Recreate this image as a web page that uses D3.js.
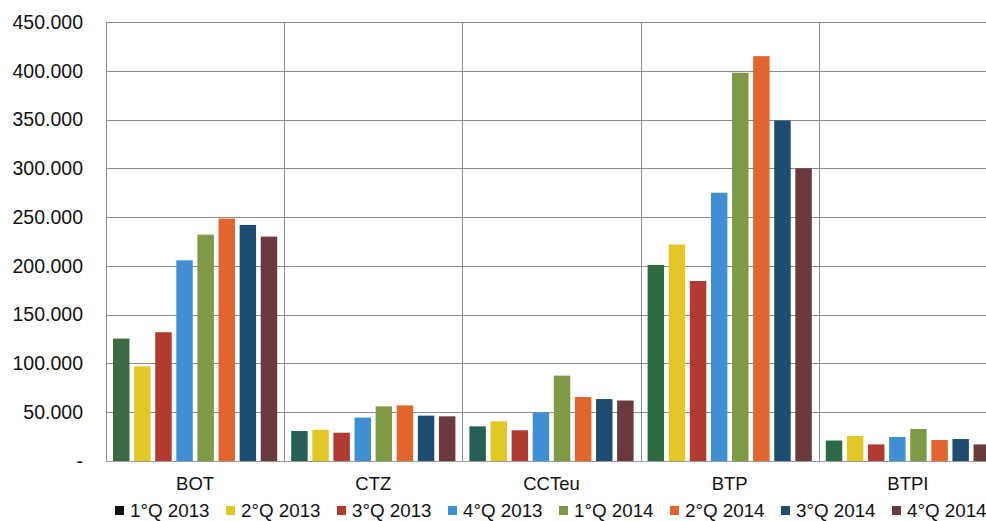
<!DOCTYPE html>
<html>
<head>
<meta charset="utf-8">
<script src="https://cdn.jsdelivr.net/npm/d3@7"></script>
<style>
	body { margin: 0; background: #fff; }
	svg { display: block; font-family: "Liberation Sans", Arial, sans-serif; }
</style>
</head>
<body>
<svg id="chart" width="986" height="521"></svg>
<script>
//DATA

var categories = ["BOT", "CTZ", "CCTeu", "BTP", "BTPI"];
var seriesNames = ["1°Q 2013", "2°Q 2013", "3°Q 2013", "4°Q 2013",
	"1°Q 2014", "2°Q 2014", "3°Q 2014", "4°Q 2014"];

// one array per quarter, values in the order of categories
var q1_2013 = [125500, 30700, 35500, 201000, 21000];
var q2_2013 = [97000, 32000, 40700, 222000, 25600];
var q3_2013 = [132000, 29000, 31500, 184500, 17000];
var q4_2013 = [205700, 44500, 49600, 275000, 24600];
var q1_2014 = [232000, 56000, 87500, 398000, 32800];
var q2_2014 = [248500, 57000, 65600, 415000, 21500];
var q3_2014 = [242000, 46500, 63500, 349000, 22500];
var q4_2014 = [230000, 45800, 62000, 300000, 17000];

var yTicks = [0, 50000, 100000, 150000, 200000, 250000, 300000, 350000, 400000, 450000];

var seriesValues = [q1_2013, q2_2013, q3_2013, q4_2013, q1_2014, q2_2014, q3_2014, q4_2014];

//STYLE

var colors = ["#3a6b42", "#e2c825", "#b13a31", "#3f8fd2", "#7e9a45", "#e26530", "#1e4d72", "#6a3a3e"];
// the first series is drawn in a slightly different green/teal per group in the original
var firstColors = {"BOT": "#3a6b42", "CTZ": "#265f57", "CCTeu": "#265f57", "BTP": "#2e6b41", "BTPI": "#2f6a47"};
var legendColors = ["#111111"].concat(colors.slice(1));

//LAYOUT

var margin = {top: 22, left: 106};
var plotRight = 997;
var plotBottom = 461;

var svg = d3.select("#chart");

var yScale = d3.scaleLinear()
	.domain([0, 450000])
	.range([plotBottom, margin.top]);

var x0 = d3.scaleBand()
	.domain(categories)
	.range([margin.left, plotRight])
	.paddingInner(0)
	.paddingOuter(0);

var x1 = d3.scaleBand()
	.domain(seriesNames)
	.range([7, x0.bandwidth() - 7])
	.paddingInner(0.22)
	.paddingOuter(0);

var fmt = function(v) {
	if (v === 0) return "-";
	return d3.format(",")(v).replace(/,/g, ".");
};

//gridlines
svg.append("g")
	.selectAll("line")
	.data(yTicks.filter(function(d) { return d > 0; }))
	.enter()
	.append("line")
	.attr("x1", margin.left)
	.attr("x2", plotRight)
	.attr("y1", function(d) { return Math.round(yScale(d)) + 0.5; })
	.attr("y2", function(d) { return Math.round(yScale(d)) + 0.5; })
	.attr("stroke", "#8c8c8c")
	.attr("stroke-width", 1);

//category separators
svg.append("g")
	.selectAll("line")
	.data(categories)
	.enter()
	.append("line")
	.attr("x1", function(d) { return Math.round(x0(d)) + 0.5; })
	.attr("x2", function(d) { return Math.round(x0(d)) + 0.5; })
	.attr("y1", margin.top)
	.attr("y2", plotBottom)
	.attr("stroke", "#8c8c8c")
	.attr("stroke-width", 1);

//bars
var groups = svg.append("g")
	.selectAll("g")
	.data(categories)
	.enter()
	.append("g")
	.attr("transform", function(d) { return "translate(" + x0(d) + ",0)"; });

groups.selectAll("rect")
	.data(function(cat, ci) {
		return seriesNames.map(function(s, si) {
			return {cat: cat, series: s, si: si, value: seriesValues[si][ci]};
		});
	})
	.enter()
	.append("rect")
	.attr("x", function(d) { return x1(d.series); })
	.attr("y", function(d) { return yScale(d.value); })
	.attr("width", x1.bandwidth())
	.attr("height", function(d) { return plotBottom - yScale(d.value); })
	.attr("fill", function(d) { return d.si === 0 ? firstColors[d.cat] : colors[d.si]; });

//baseline
svg.append("line")
	.attr("x1", margin.left)
	.attr("x2", plotRight)
	.attr("y1", plotBottom + 0.5)
	.attr("y2", plotBottom + 0.5)
	.attr("stroke", "#9a9a9a");

//y axis
var yAxis = d3.axisLeft(yScale)
	.tickValues(yTicks)
	.tickSize(0)
	.tickPadding(23)
	.tickFormat(fmt);

var yg = svg.append("g")
	.attr("transform", "translate(" + margin.left + ",0)")
	.call(yAxis);
yg.select(".domain").attr("stroke", "#8c8c8c");
yg.selectAll("text")
	.attr("font-size", 19.5)
	.attr("fill", "#111")
	.style("font-family", "Liberation Sans, Arial, sans-serif");

//x axis labels
var xAxis = d3.axisBottom(x0)
	.tickSize(0)
	.tickPadding(16);

var xg = svg.append("g")
	.attr("transform", "translate(0," + plotBottom + ")")
	.call(xAxis);
xg.select(".domain").remove();
xg.selectAll("text")
	.attr("font-size", 18.5)
	.attr("fill", "#111")
	.style("font-family", "Liberation Sans, Arial, sans-serif");

//legend
var legend = svg.append("g")
	.selectAll("g")
	.data(seriesNames)
	.enter()
	.append("g")
	.attr("transform", function(d, i) { return "translate(" + (115 + i * 111) + ",510)"; });

legend.append("rect")
	.attr("x", 0)
	.attr("y", -4)
	.attr("width", 9)
	.attr("height", 9)
	.attr("fill", function(d, i) { return legendColors[i]; });

legend.append("text")
	.attr("x", 15)
	.attr("y", 0)
	.attr("dy", "0.35em")
	.attr("font-size", 18.8)
	.attr("fill", "#111")
	.text(function(d) { return d; });
</script>
</body>
</html>
